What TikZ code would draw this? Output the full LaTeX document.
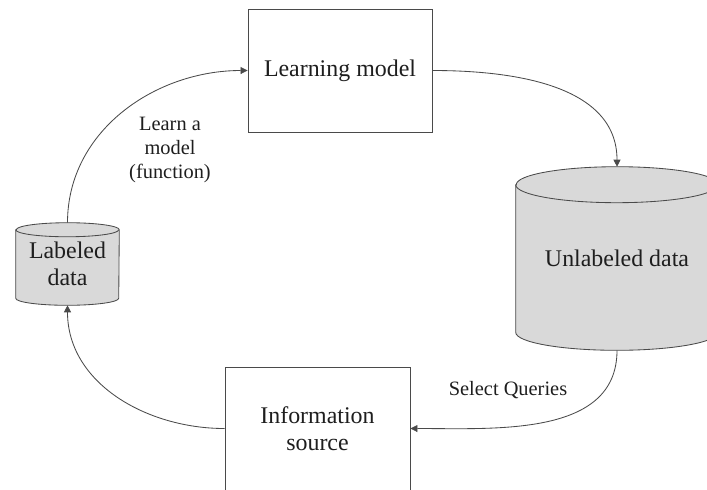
\documentclass[tikz,border=0pt]{standalone}
\usepackage{fontspec}
\setmainfont{Liberation Serif}
\usepackage{tikz}
\usetikzlibrary{arrows.meta,backgrounds}
\definecolor{Ink}{HTML}{1E1E1E}
\definecolor{Wire}{HTML}{4A4A4A}
\definecolor{Drum}{HTML}{D9D9D9}
\begin{document}
\begin{tikzpicture}[x=0.025cm,y=-0.025cm,
  box/.style={draw=Wire,line width=0.6pt,fill=white,text=Ink,align=center,
    font=\fontsize{17}{19}\selectfont},
  store/.style={inner sep=0pt,text=Ink,align=center,font=\fontsize{17}{19}\selectfont},
  flow/.style={draw=Wire,line width=0.6pt,-{Triangle[length=5pt,width=5pt]}},
  note/.style={text=Ink,align=center,font=\fontsize{14.5}{17}\selectfont}]
  \useasboundingbox (0,0) rectangle (707,489);
  \node[box,minimum width=4.6cm,minimum height=3.075cm] (lm) at (340,70.5) {Learning model};
  \node[box,minimum width=4.625cm,minimum height=3.075cm] (src) at (317.5,428.5) {Information\\source};
  \node[store,minimum width=2.575cm,minimum height=2.05cm] (lab) at (67.5,264) {Labeled\\data};
  \node[store,minimum width=5.05cm,minimum height=4.575cm] (unl) at (617,258.5) {Unlabeled data};
  \begin{scope}[on background layer]
    \foreach \n/\rx/\ry in {lab/1.2875cm/5pt,unl/2.525cm/12.8pt} {
      \draw[Wire,fill=Drum,line width=0.6pt] ([yshift=-\ry]\n.north west)
        -- ([yshift=\ry]\n.south west) arc[start angle=180,end angle=360,x radius=\rx,y radius=\ry]
        -- ([yshift=-\ry]\n.north east) arc[start angle=0,end angle=180,x radius=\rx,y radius=\ry]
        -- cycle;
      \draw[Wire,line width=0.6pt] ([yshift=-\ry]\n.north west)
        arc[start angle=180,end angle=360,x radius=\rx,y radius=\ry];
    }
  \end{scope}
  \draw[flow] (lab.north) to[out=90,in=180] (lm.west);
  \draw[flow] (lm.east) to[out=0,in=90] (unl.north);
  \draw[flow] (unl.south) to[out=-90,in=0] (src.east);
  \draw[flow] (src.west) to[out=180,in=-90] (lab.south);
  \node[note] (learn) at (170,150) {Learn a\\model\\(function)};
  \node[note] (query) at (508,390) {Select Queries};
\end{tikzpicture}
\end{document}
